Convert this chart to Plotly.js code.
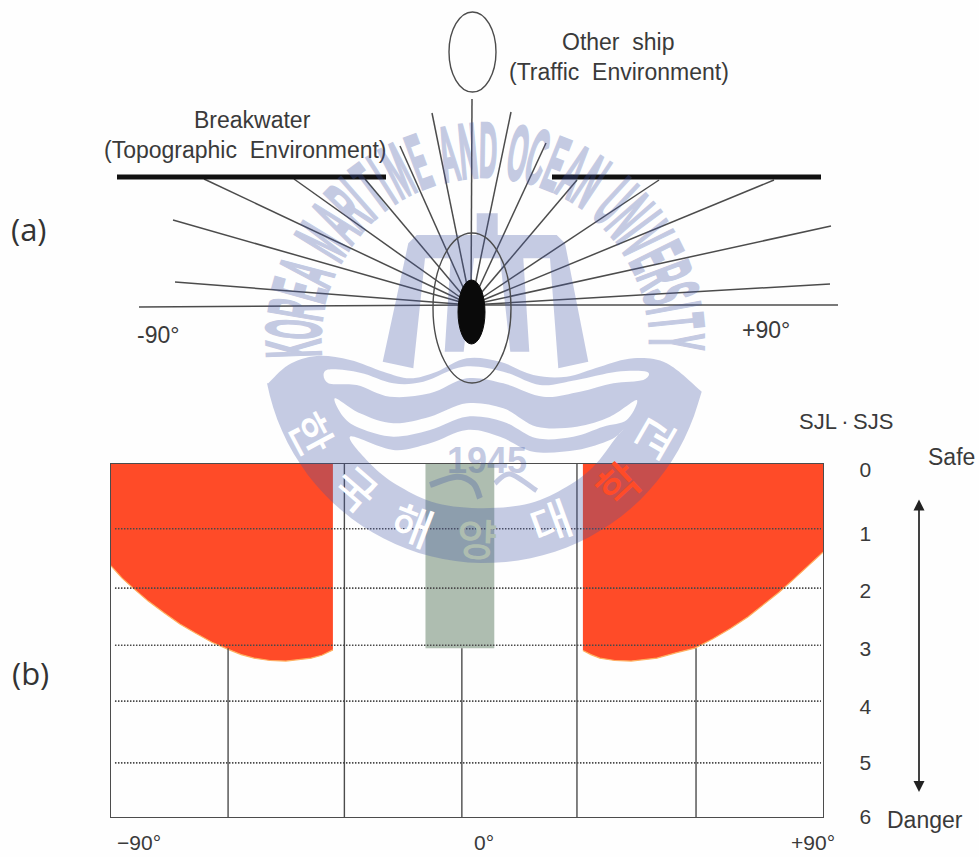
<!DOCTYPE html>
<html><head><meta charset="utf-8">
<script src="https://cdn.plot.ly/plotly-3.0.1.min.js"></script>
<style>html,body{margin:0;padding:0;background:#fff}#c{width:979px;height:857px}</style></head>
<body><div id="c"></div>
<script>
// ---------- panel (b) values ----------
const leftRedX  = [-90,-87.2,-84.4,-80.6,-76.6,-72.6,-68.8,-64.5,-60.4,-57.1,-53.8,-49.8,-45.8,-42.5,-39.4,-36.7,-33.9];
const leftRedY  = [1.73,1.94,2.11,2.33,2.53,2.72,2.87,3.03,3.15,3.24,3.30,3.34,3.35,3.33,3.30,3.25,3.16];
const rightRedX = [29.3,31.3,33.6,37.4,41.5,44.7,48,52.8,57.6,62.2,66.7,71,75.3,78.9,82.4,86.2,90];
const rightRedY = [3.17,3.24,3.30,3.34,3.35,3.33,3.30,3.21,3.13,2.97,2.79,2.60,2.37,2.18,1.97,1.73,1.50];
const centerBandX = [-10.5,6.9];
const centerBandDepth = 3.13;
const dottedLevels = [1.10,2.11,3.08,4.03,5.08];
const fullVerticals = [-31,27.8];
const shortVerticals = [-60.4,-1.3,57.9];
const shortVerticalTop = 3.13;
const yTickVals = [0.10,1.19,2.16,3.13,4.12,5.08,6];
const yTickText = ['0','1','2','3','4','5','6'];
const xTickVals = [-82.9,4.3,87.5];
const xTickText = ['\u221290\u00b0','0\u00b0','+90\u00b0'];

// ---------- panel (a) geometry ----------
const shipX = 471, shipY = 305;
const rayEndX = [139,175,173,204,294,365,400,432,472,511,546,577,659,774,831,830,838];
const rayEndY = [307,282,220,179,179,179,146,113,99,112,143,180,180,180,226,284,305];
const wallX = [117,386,null,552,821];
const wallY = [177,177,null,177,177];

// ---------- watermark outline (units: px in a 3x crop) ----------
const sealTop = [[55,490],[115,435],[200,408],[300,420],[400,455],[480,475],[560,455],[650,415],[750,425],[850,465],[950,470],[1050,440],[1150,415],[1250,430],[1355,515]];
const wave1 = [[230,450],[330,458],[430,490],[520,485],[640,440],[760,455],[870,495],[980,480],[1100,455],[1190,455],[1180,480],[1090,490],[990,515],[880,530],[760,490],[650,475],[540,520],[420,530],[320,495],[235,490]];
const wave2 = [[255,535],[330,580],[430,610],[540,590],[650,550],[760,565],[860,620],[980,620],[1080,590],[1160,540],[1130,600],[1060,620],[970,650],[860,655],[760,605],[650,590],[540,630],[430,650],[330,625],[280,590]];
const inner = [[300,650],[430,690],[540,670],[650,630],[750,650],[850,695],[980,690],[1080,660],[1120,630],[1100,650],[1030,740],[950,800],[840,850],[700,865],[560,850],[450,800],[370,740]];
// M emblem (3x crop anchored at 370,205)
const mark = [[38,470],[115,115],[140,90],[320,90],[320,25],[383,25],[383,90],[560,90],[585,115],[655,470],[565,490],[540,160],[460,160],[478,440],[421,440],[390,160],[312,160],[281,440],[224,440],[242,160],[165,160],[130,490]];
const swoosh1 = [[540,795],[620,770],[670,790],[690,835]];
const swoosh2 = [[735,790],[780,762],[860,812]];
const arcWords = 'KOREA MARITIME AND OCEAN UNIVERSITY';
const arcWeights = {I:0.5,M:1.35,N:1.05,' ':0.55};
const sealChars = ['한','국','해','양','대','학','교'];
const sealCharX = [313,357,413,477,550,617,653];
const sealCharY = [433,487,523,537,520,483,437];
const sealCharAngle = [62,41,21,2,-20,-43,-60];
const sealCharColor = ['#ffffff','#ffffff','#ffffff','#aebdb0','#ffffff','#ff4b28','#ffffff'];

const inkColor = '#4c4c4c', textColor = '#3a3a3a', sansFont = 'Liberation Sans, Arial, sans-serif';
const wmColor = 'rgb(65,85,165)', wmOpacity = 0.3;

const zx = p => 250 + p[0]/3, zy = p => 220 + p[1]/3;
const markPath = mark.map((p,i)=>(i?'L':'M')+(370+p[0]/3).toFixed(1)+','+(205+p[1]/3).toFixed(1)).join(' ')+' Z';
function smooth(pts, closed){
  const q = pts.map(p=>[zx(p),zy(p)]), n=q.length;
  const at = i => closed ? q[(i+n)%n] : q[Math.max(0,Math.min(n-1,i))];
  let d = 'M'+q[0][0].toFixed(1)+','+q[0][1].toFixed(1);
  for(let i=0;i<(closed?n:n-1);i++){
    const a=at(i-1),b=at(i),c=at(i+1),e=at(i+2);
    d+=` C${(b[0]+(c[0]-a[0])/6).toFixed(1)},${(b[1]+(c[1]-a[1])/6).toFixed(1)} ${(c[0]-(e[0]-b[0])/6).toFixed(1)},${(c[1]-(e[1]-b[1])/6).toFixed(1)} ${c[0].toFixed(1)},${c[1].toFixed(1)}`;
  }
  return d;
}
const sealCx = 485, sealCy = 341, sealR = 222;
let sealPath = smooth(sealTop,false);
const a0 = Math.atan2(392-sealCy,702-sealCx), a1 = Math.atan2(383-sealCy,268-sealCx);
for(let k=1;k<=48;k++){ const t=a0+(a1-a0)*k/48; sealPath+=` L${(sealCx+sealR*Math.cos(t)).toFixed(1)},${(sealCy+sealR*Math.sin(t)).toFixed(1)}`; }
sealPath+=' Z '+smooth(wave1,true)+' Z '+smooth(wave2,true)+' Z '+smooth(inner,true)+' Z';

// ---------- traces ----------
const A={xaxis:'x',yaxis:'y'}, B={xaxis:'x2',yaxis:'y2'};
const raysX=[], raysY=[];
rayEndX.forEach((x,i)=>{raysX.push(shipX,x,null);raysY.push(shipY,rayEndY[i],null);});
const vx=[],vy=[];
fullVerticals.forEach(x=>{vx.push(x,x,null);vy.push(0,6,null);});
shortVerticals.forEach(x=>{vx.push(x,x,null);vy.push(shortVerticalTop,6,null);});
const gx=[],gy=[];
dottedLevels.forEach(l=>{gx.push(-89,89.5,null);gy.push(l,l,null);});
const redEdge={color:'#ffb060',width:1.2};
const traces=[
 {...B,x:[...leftRedX,leftRedX[leftRedX.length-1],-90,-90],y:[...leftRedY,0,0,leftRedY[0]],mode:'lines',fill:'toself',fillcolor:'#ff4b28',line:{width:0}},
 {...B,x:[...rightRedX,90,rightRedX[0],rightRedX[0]],y:[...rightRedY,0,0,rightRedY[0]],mode:'lines',fill:'toself',fillcolor:'#ff4b28',line:{width:0}},
 {...B,x:leftRedX,y:leftRedY,mode:'lines',line:redEdge},
 {...B,x:rightRedX,y:rightRedY,mode:'lines',line:redEdge},
 {...B,x:[centerBandX[0],centerBandX[1],centerBandX[1],centerBandX[0],centerBandX[0]],y:[0,0,centerBandDepth,centerBandDepth,0],mode:'lines',fill:'toself',fillcolor:'#aebdb0',line:{width:0}},
 {...B,x:vx,y:vy,mode:'lines',line:{color:inkColor,width:1.4}},
 {...B,x:gx,y:gy,mode:'lines',line:{color:'#4a4a4a',width:1.6,dash:'1.5px,1.5px'}},
 {...A,x:raysX,y:raysY,mode:'lines',line:{color:inkColor,width:1.5}},
 {...A,x:wallX,y:wallY,mode:'lines',line:{color:'#111',width:5}}
];

// ---------- shapes ----------
const shapes=[
 {type:'path',xref:'x',yref:'y',path:sealPath,fillcolor:wmColor,opacity:wmOpacity,line:{width:0},fillrule:'evenodd',layer:'above'},
 {type:'path',xref:'x',yref:'y',path:markPath,fillcolor:wmColor,opacity:wmOpacity,line:{width:0},layer:'above'},
 {type:'path',xref:'x',yref:'y',path:smooth(swoosh1,false),line:{color:wmColor,width:6},opacity:wmOpacity,layer:'above'},
 {type:'path',xref:'x',yref:'y',path:smooth(swoosh2,false),line:{color:wmColor,width:5},opacity:wmOpacity,layer:'above'},
 {type:'circle',xref:'x',yref:'y',x0:449,x1:496,y0:12,y1:92,line:{color:inkColor,width:1.4},layer:'above'},
 {type:'circle',xref:'x',yref:'y',x0:433,x1:511,y0:233,y1:383,line:{color:inkColor,width:1.4},layer:'above'},
 {type:'circle',xref:'x',yref:'y',x0:458,x1:485,y0:280,y1:344,fillcolor:'#0a0a0a',line:{color:'#0a0a0a',width:1},layer:'above'}
];

// ---------- text ----------
function label(text,x,y,size,extra){return Object.assign({text,x,y,xref:'x',yref:'y',showarrow:false,xanchor:'center',yanchor:'middle',font:{family:sansFont,size,color:textColor}},extra||{});}
const annotations=[
 label('Other  ship',618,42,23),
 label('(Traffic  Environment)',619,72,23),
 label('Breakwater',252,120,23),
 label('(Topographic  Environment)',245,150,23),
 label('-90\u00b0',158,335,23),
 label('+90\u00b0',766,330,23),
 label('(a)',29,229,31,{font:{family:'Open Sans, sans-serif',size:31,color:'#333'}}),
 label('(b)',30,673,31,{font:{family:'Open Sans, sans-serif',size:31,color:'#333'}}),
 label('SJL\u2009\u00b7\u2009SJS',846,421,22),
 label('Safe',951,457,23),
 label('Danger',925,820,23),
 {x:919,y:792,ax:919,ay:498,xref:'x',yref:'y',axref:'x',ayref:'y',text:'',showarrow:true,arrowhead:2,arrowside:'end+start',arrowsize:1.3,arrowwidth:1.7,arrowcolor:'#222'}
];
const arcStartIndex = annotations.length;
const arcR=192,arcCx=485,arcCy=342,arcFrom=-92,arcTo=90;
const chars=arcWords.split('');
const w=chars.map(c=>arcWeights[c]||1);
const totalW=w.reduce((s,v)=>s+v,0)-w[0]/2-w[w.length-1]/2;
let run=-w[0]/2;
chars.forEach((ch,i)=>{
  const mid=run+w[i]/2; run+=w[i];
  if(ch===' ')return;
  const deg=arcFrom+(arcTo-arcFrom)*mid/totalW, t=deg*Math.PI/180;
  annotations.push({text:ch,x:arcCx+arcR*Math.sin(t),y:arcCy-arcR*Math.cos(t),xref:'x',yref:'y',showarrow:false,xanchor:'center',yanchor:'middle',textangle:deg,opacity:wmOpacity,
    font:{family:'Liberation Sans, Arial',size:78,color:wmColor,weight:700}});
});
const arcEndIndex = annotations.length;
annotations.push({text:'1945',x:487,y:460,xref:'x',yref:'y',showarrow:false,opacity:wmOpacity,xanchor:'center',yanchor:'middle',font:{family:sansFont,size:36,color:wmColor,weight:700}});
sealChars.forEach((c,i)=>annotations.push({text:c,x:sealCharX[i],y:sealCharY[i],xref:'x',yref:'y',showarrow:false,xanchor:'center',yanchor:'middle',textangle:sealCharAngle[i],font:{family:'Noto Sans CJK KR',size:44,color:sealCharColor[i],weight:500}}));

const layout={
 width:979,height:857,margin:{l:0,r:0,t:0,b:0},paper_bgcolor:'#fefefe',plot_bgcolor:'rgba(0,0,0,0)',showlegend:false,
 xaxis:{domain:[0,1],range:[0,979],visible:false,fixedrange:true},
 yaxis:{domain:[0,1],range:[857,0],visible:false,fixedrange:true},
 xaxis2:{anchor:'y2',domain:[111/979,823/979],range:[-90,90],showgrid:false,zeroline:false,showline:true,mirror:true,linecolor:inkColor,linewidth:1.4,
   tickmode:'array',tickvals:xTickVals,ticktext:xTickText,ticks:'outside',ticklen:6,tickcolor:'rgba(0,0,0,0)',tickfont:{family:sansFont,size:21,color:textColor}},
 yaxis2:{anchor:'x2',side:'right',domain:[1-817/857,1-464/857],range:[6,0],showgrid:false,zeroline:false,showline:true,mirror:true,linecolor:inkColor,linewidth:1.4,
   tickmode:'array',tickvals:yTickVals,ticktext:yTickText,ticks:'outside',ticklen:31,tickcolor:'rgba(0,0,0,0)',tickfont:{family:sansFont,size:21,color:textColor}},
 shapes,annotations
};
Plotly.newPlot('c',traces,layout,{displayModeBar:false,staticPlot:true}).then(gd=>{
  // condense the arc lettering of the watermark
  gd.querySelectorAll('.annotation').forEach(n=>{
    const idx=+n.getAttribute('data-index');
    if(idx>=arcStartIndex&&idx<arcEndIndex){
      const t=n.querySelector('text');
      if(t){t.style.transformBox='fill-box';t.style.transformOrigin='center';t.style.transform='scaleX(0.32)';t.style.stroke=wmColor;t.style.strokeWidth='3px';}
    }
  });
});
</script></body></html>
